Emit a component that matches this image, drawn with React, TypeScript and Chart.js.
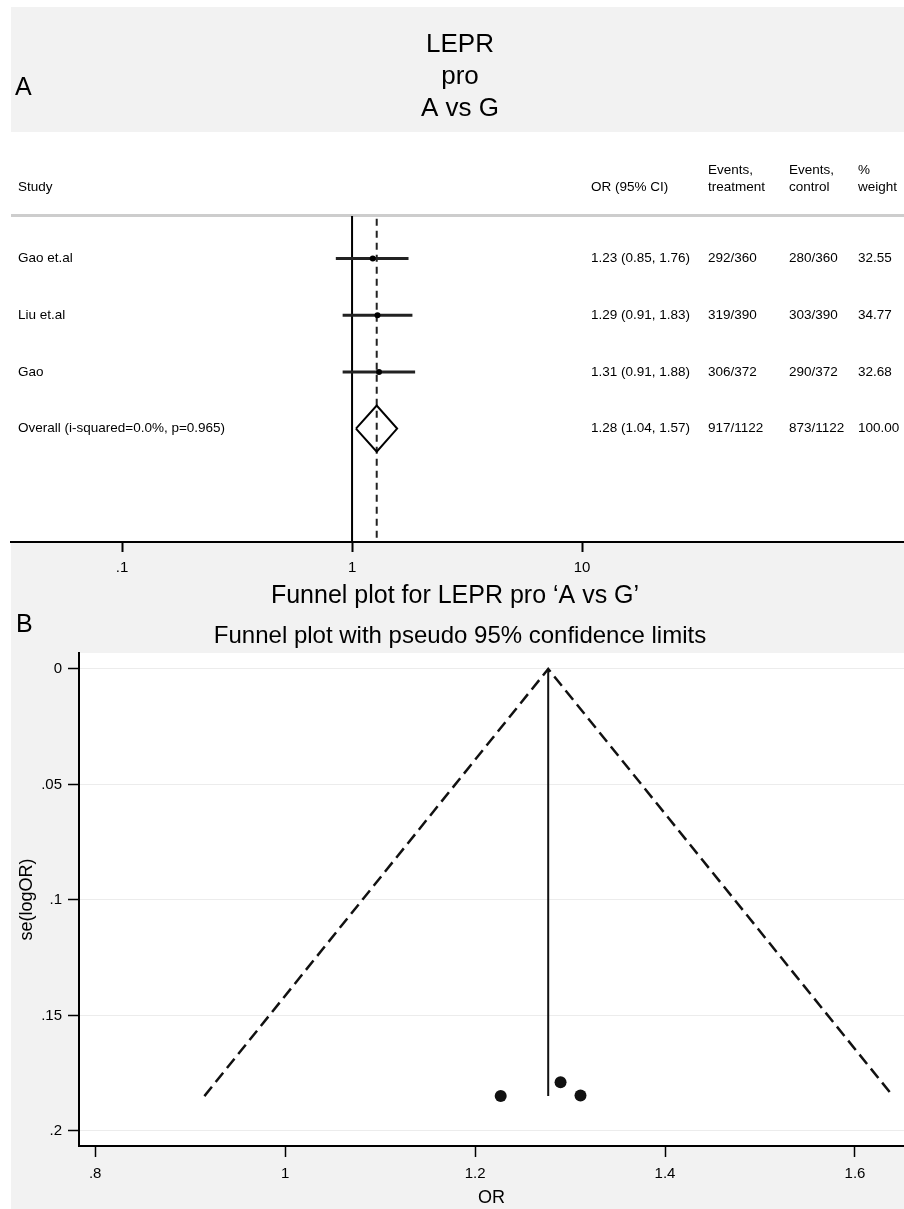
import React, { useEffect, useRef } from 'react';
import { Chart, registerables } from 'chart.js';

Chart.register(...registerables);

const FONT = '"Liberation Sans", Arial, Helvetica, sans-serif';
const BG = '#f2f2f2';

// ---------- Panel A: forest plot ----------
const titleLines = ['LEPR', 'pro', 'A vs G'];
const studies = ['Gao et.al', 'Liu et.al', 'Gao', 'Overall (i-squared=0.0%, p=0.965)'];
const orEst = [1.23, 1.29, 1.31, 1.28];
const ciLow = [0.85, 0.91, 0.91, 1.04];
const ciHigh = [1.76, 1.83, 1.88, 1.57];
const eventsTreatment = ['292/360', '319/390', '306/372', '917/1122'];
const eventsControl = ['280/360', '303/390', '290/372', '873/1122'];
const weights = ['32.55', '34.77', '32.68', '100.00'];
const forestTicks = [0.1, 1, 10];
const forestTickLabels = ['.1', '1', '10'];
const headers = [['Study'], ['OR (95% CI)'], ['Events,', 'treatment'], ['Events,', 'control'], ['%', 'weight']];

// ---------- Panel B: funnel plot ----------
const funnelOR = [1.227, 1.29, 1.311];
const funnelSE = [0.1849, 0.1789, 0.1846];
const pooledOR = 1.277;
const maxSE = 0.1849;
const limitLow = 0.915;
const limitHigh = 1.64;
const funnelXTicks = [0.8, 1, 1.2, 1.4, 1.6];
const funnelXTickLabels = ['.8', '1', '1.2', '1.4', '1.6'];
const funnelYTicks = [0, 0.05, 0.1, 0.15, 0.2];
const funnelYTickLabels = ['0', '.05', '.1', '.15', '.2'];

const colX = [18, 591, 708, 789, 858];

function noPad(s: any) {
  s.paddingLeft = 0;
  s.paddingRight = 0;
  s.paddingTop = 0;
  s.paddingBottom = 0;
}

function forestConfig(): any {
  const nStudies = 3;
  const overall = 3;
  const datasets: any[] = [];
  datasets.push({
    data: orEst.slice(0, nStudies).map((v, i) => ({ x: v, y: i })),
    pointRadius: 3,
    pointBackgroundColor: '#000',
    pointBorderWidth: 0,
    showLine: false,
  });
  for (let i = 0; i < nStudies; i++) {
    datasets.push({
      data: [{ x: ciLow[i], y: i }, { x: ciHigh[i], y: i }],
      showLine: true,
      borderColor: '#222',
      borderWidth: 3,
      pointRadius: 0,
    });
  }
  datasets.push({
    data: [
      { x: ciLow[overall], y: overall },
      { x: orEst[overall], y: overall - 0.406 },
      { x: ciHigh[overall], y: overall },
      { x: orEst[overall], y: overall + 0.406 },
      { x: ciLow[overall], y: overall },
    ],
    showLine: true,
    borderColor: '#000',
    borderWidth: 2,
    pointRadius: 0,
    fill: false,
    tension: 0,
  });
  datasets.push({
    data: [{ x: orEst[overall], y: -0.7 }, { x: orEst[overall], y: 5 }],
    showLine: true,
    borderColor: '#222',
    borderWidth: 2,
    borderDash: [7, 5],
    pointRadius: 0,
  });
  datasets.push({
    data: [{ x: 1, y: -0.75 }, { x: 1, y: 5 }],
    showLine: true,
    borderColor: '#000',
    borderWidth: 2,
    pointRadius: 0,
  });

  const decor = {
    id: 'forestDecor',
    beforeDraw(chart: any) {
      const { ctx, width, height, chartArea } = chart;
      const ys = chart.scales.y;
      ctx.save();
      ctx.fillStyle = '#fff';
      ctx.fillRect(0, 0, width, height);
      ctx.fillStyle = BG;
      ctx.fillRect(11, 7, width - 11, 125);
      ctx.fillRect(11, chartArea.bottom, width - 11, height - chartArea.bottom);
      ctx.fillStyle = '#000';
      ctx.textBaseline = 'alphabetic';
      ctx.textAlign = 'center';
      ctx.font = `26px ${FONT}`;
      titleLines.forEach((t, i) => ctx.fillText(t, 460, 52 + 32 * i));
      ctx.textAlign = 'left';
      ctx.font = `25px ${FONT}`;
      ctx.fillText('A', 15, 95);
      // separator
      ctx.fillStyle = '#cdcdcd';
      ctx.fillRect(11, chartArea.top - 2, width - 11, 3);
      // headers
      ctx.fillStyle = '#000';
      ctx.font = `13.5px ${FONT}`;
      ctx.textBaseline = 'middle';
      headers.forEach((lines, c) => {
        lines.forEach((t, k) => {
          const y = chartArea.top - 29 - (lines.length - 1 - k) * 17;
          ctx.fillText(t, colX[c], y);
        });
      });
      // rows
      studies.forEach((s, i) => {
        const y = ys.getPixelForValue(i);
        const orText = `${orEst[i].toFixed(2)} (${ciLow[i].toFixed(2)}, ${ciHigh[i].toFixed(2)})`;
        const cells = [s, orText, eventsTreatment[i], eventsControl[i], weights[i]];
        cells.forEach((t, c) => ctx.fillText(t, colX[c], y));
      });
      ctx.restore();
    },
  };

  return {
    type: 'scatter',
    data: { datasets },
    options: {
      animation: false,
      responsive: false,
      maintainAspectRatio: false,
      layout: { autoPadding: false, padding: { left: 11, right: 0, top: 216, bottom: 0 } },
      plugins: { legend: { display: false }, tooltip: { enabled: false }, title: { display: false } },
      scales: {
        x: {
          type: 'logarithmic',
          position: 'bottom',
          min: 0.0329,
          max: 251,
          afterFit: (s: any) => { s.height = 38; noPad(s); },
          afterBuildTicks: (s: any) => { s.ticks = forestTicks.map((v) => ({ value: v })); },
          ticks: {
            autoSkip: false,
            maxRotation: 0,
            padding: 7,
            color: '#000',
            font: { family: FONT, size: 15 },
            callback: (v: number) => {
              const i = forestTicks.findIndex((t) => Math.abs(t - v) < 1e-9);
              return i >= 0 ? forestTickLabels[i] : '';
            },
          },
          grid: { drawOnChartArea: false, drawTicks: true, tickLength: 10, tickColor: '#000', tickWidth: 2 },
          border: { display: true, color: '#000', width: 2 },
        },
        y: { type: 'linear', display: false, reverse: true, min: -0.75, max: 5.0 },
      },
    },
    plugins: [decor],
  };
}

function funnelConfig(): any {
  const datasets: any[] = [
    {
      data: funnelOR.map((v, i) => ({ x: v, y: funnelSE[i] })),
      pointRadius: 6,
      pointBackgroundColor: '#111',
      pointBorderWidth: 0,
      showLine: false,
    },
    {
      data: [{ x: pooledOR, y: 0 }, { x: pooledOR, y: maxSE }],
      showLine: true,
      borderColor: '#111',
      borderWidth: 2,
      pointRadius: 0,
    },
    {
      data: [{ x: limitLow, y: maxSE }, { x: pooledOR, y: 0 }, { x: limitHigh, y: maxSE }],
      showLine: true,
      borderColor: '#111',
      borderWidth: 2.5,
      borderDash: [12, 6],
      pointRadius: 0,
      tension: 0,
    },
  ];

  const decor = {
    id: 'funnelDecor',
    beforeDraw(chart: any) {
      const { ctx, width, height, chartArea } = chart;
      ctx.save();
      ctx.fillStyle = '#fff';
      ctx.fillRect(0, 0, width, height);
      ctx.fillStyle = BG;
      ctx.fillRect(11, 0, width - 11, height);
      ctx.fillStyle = '#fff';
      ctx.fillRect(chartArea.left, chartArea.top, chartArea.right - chartArea.left, chartArea.bottom - chartArea.top);
      ctx.fillStyle = '#000';
      ctx.textBaseline = 'alphabetic';
      ctx.textAlign = 'center';
      ctx.font = `25px ${FONT}`;
      ctx.fillText('Funnel plot for LEPR pro \u2018A vs G\u2019', 455, 23);
      ctx.font = `24px ${FONT}`;
      ctx.fillText('Funnel plot with pseudo 95% confidence limits', 460, 63);
      ctx.textAlign = 'left';
      ctx.font = `25px ${FONT}`;
      ctx.fillText('B', 16, 52);
      ctx.restore();
    },
  };

  return {
    type: 'scatter',
    data: { datasets },
    options: {
      animation: false,
      responsive: false,
      maintainAspectRatio: false,
      layout: { autoPadding: false, padding: { left: 0, right: 0, top: 73, bottom: 0 } },
      plugins: { legend: { display: false }, tooltip: { enabled: false }, title: { display: false } },
      scales: {
        x: {
          type: 'linear',
          position: 'bottom',
          min: 0.783,
          max: 1.6516,
          afterFit: (s: any) => { s.height = 63; noPad(s); },
          afterBuildTicks: (s: any) => { s.ticks = funnelXTicks.map((v) => ({ value: v })); },
          ticks: {
            autoSkip: false,
            maxRotation: 0,
            padding: 8,
            color: '#000',
            font: { family: FONT, size: 15 },
            callback: (v: number) => {
              const i = funnelXTicks.findIndex((t) => Math.abs(t - v) < 1e-9);
              return i >= 0 ? funnelXTickLabels[i] : '';
            },
          },
          grid: { drawOnChartArea: false, drawTicks: true, tickLength: 11, tickColor: '#000', tickWidth: 1.5 },
          border: { display: true, color: '#000', width: 2 },
          title: { display: true, text: 'OR', color: '#000', font: { family: FONT, size: 18 }, padding: { top: 0, bottom: 0 } },
        },
        y: {
          type: 'linear',
          position: 'left',
          reverse: true,
          min: -0.0069,
          max: 0.2065,
          afterFit: (s: any) => { s.width = 79; noPad(s); },
          afterBuildTicks: (s: any) => { s.ticks = funnelYTicks.map((v) => ({ value: v })); },
          ticks: {
            autoSkip: false,
            padding: 6,
            color: '#000',
            font: { family: FONT, size: 15 },
            callback: (v: number) => {
              const i = funnelYTicks.findIndex((t) => Math.abs(t - v) < 1e-9);
              return i >= 0 ? funnelYTickLabels[i] : '';
            },
          },
          grid: { drawOnChartArea: true, color: '#ececec', lineWidth: 1, drawTicks: true, tickLength: 11, tickColor: '#000', tickWidth: 1.5 },
          border: { display: true, color: '#000', width: 2 },
          title: { display: true, text: 'se(logOR)', color: '#000', font: { family: FONT, size: 18 }, padding: { top: 16, bottom: 0 } },
        },
      },
    },
    plugins: [decor],
  };
}

export default function App() {
  const forestRef = useRef<HTMLCanvasElement>(null);
  const funnelRef = useRef<HTMLCanvasElement>(null);
  useEffect(() => {
    const c1 = new Chart(forestRef.current as HTMLCanvasElement, forestConfig());
    const c2 = new Chart(funnelRef.current as HTMLCanvasElement, funnelConfig());
    return () => {
      c1.destroy();
      c2.destroy();
    };
  }, []);
  return (
    <div style={{ position: 'absolute', left: 0, top: 0, width: 904, height: 1209, background: '#fff', overflow: 'hidden' }}>
      <canvas ref={forestRef} width={904} height={580} style={{ position: 'absolute', left: 0, top: 0, width: 904, height: 580 }} />
      <canvas ref={funnelRef} width={904} height={629} style={{ position: 'absolute', left: 0, top: 580, width: 904, height: 629 }} />
    </div>
  );
}
